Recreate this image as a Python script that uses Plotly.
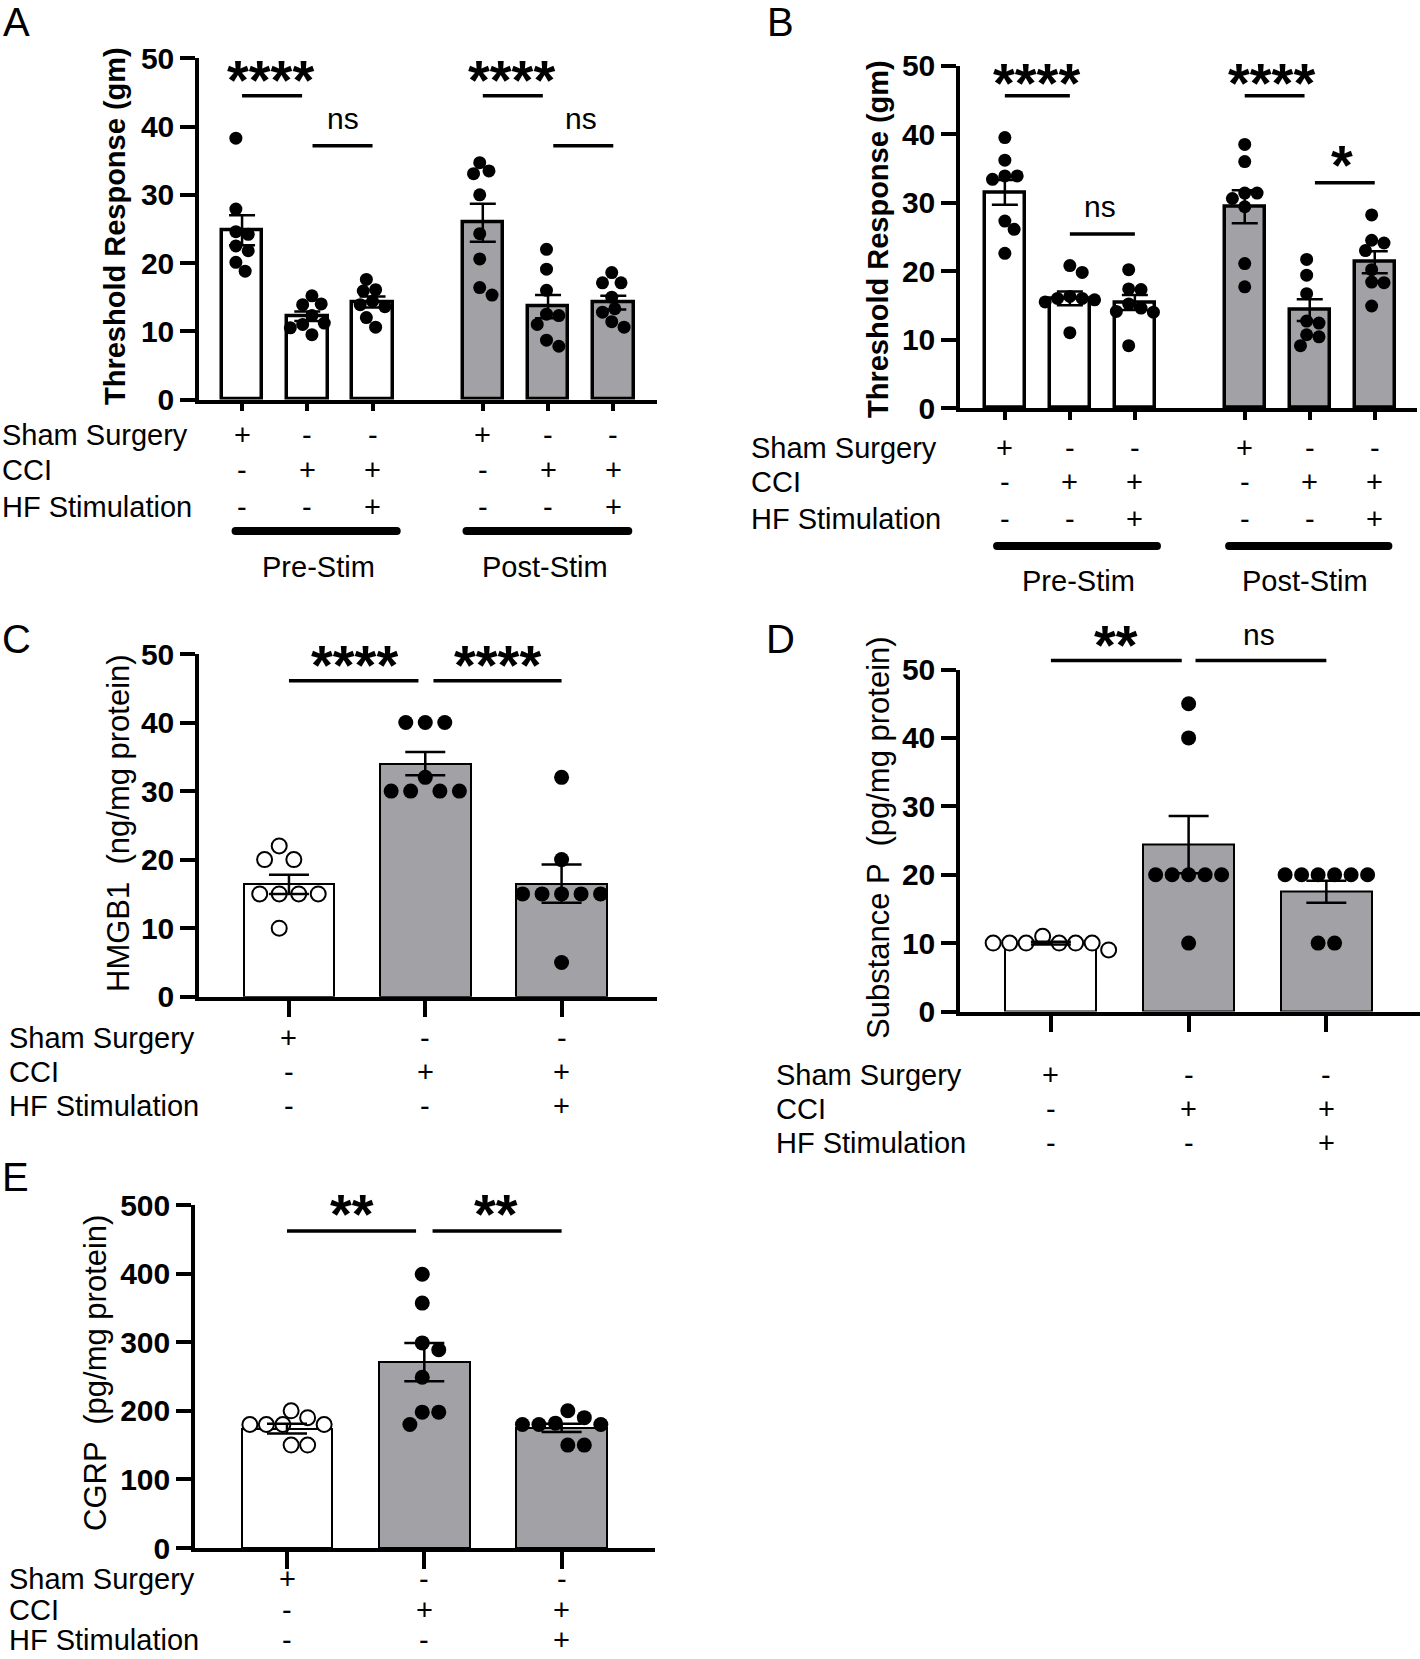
import plotly.graph_objects as go

W, H = 1420, 1659

# ---------------- data ----------------
row_labels = ["Sham Surgery", "CCI", "HF Stimulation"]
sham_signs = ["+", "-", "-"]
cci_signs = ["-", "+", "+"]
hf_signs = ["-", "-", "+"]
phase_labels = ["Pre-Stim", "Post-Stim"]

A_points = [
    [38.3, 27.9, 24.6, 24.2, 22.5, 21.8, 20.1, 18.8],
    [15.2, 14.0, 13.9, 12.3, 11.2, 11.0, 10.5, 9.5],
    [17.6, 16.1, 15.9, 14.4, 13.9, 13.6, 12.0, 10.6],
    [34.7, 33.5, 33.1, 30.0, 24.3, 20.6, 16.4, 15.3],
    [22.0, 19.1, 16.0, 12.5, 12.3, 11.0, 8.7, 7.8],
    [18.6, 17.1, 17.1, 15.0, 13.3, 12.8, 11.4, 10.6],
]
A_mean = [24.8, 12.2, 14.3, 25.9, 13.6, 14.2]
A_sem = [2.2, 0.7, 0.8, 2.8, 1.7, 1.0]
A_sig = ["****", "ns", "****", "ns"]

B_points = [
    [39.5, 36.2, 33.9, 33.9, 33.4, 27.3, 26.1, 22.6],
    [20.8, 19.8, 16.3, 16.0, 16.0, 15.8, 15.5, 11.0],
    [20.2, 17.4, 17.3, 15.2, 14.6, 14.1, 14.0, 9.1],
    [38.5, 36.0, 31.4, 31.4, 30.6, 29.4, 21.1, 17.7],
    [21.7, 19.4, 16.7, 12.7, 12.4, 10.7, 10.4, 9.1],
    [28.2, 24.5, 24.1, 23.0, 20.2, 18.4, 18.3, 14.9],
]
B_mean = [31.5, 16.0, 15.4, 29.4, 14.3, 21.3]
B_sem = [1.8, 1.0, 1.1, 2.4, 1.6, 1.6]
B_sig = ["****", "ns", "****", "*"]

C_points = [
    [22, 20, 20, 15, 15, 15, 15, 10],
    [40, 40, 40, 32, 30, 30, 30, 30],
    [32, 20, 15, 15, 15, 15, 15, 5],
]
C_mean = [16.4, 34.0, 16.5]
C_sem = [1.4, 1.7, 2.8]
C_sig = ["****", "****"]

D_points = [
    [10, 11, 10, 10, 9, 10, 10, 10],
    [45, 40, 20, 20, 20, 20, 20, 10],
    [20, 20, 20, 20, 20, 20, 10, 10],
]
D_mean = [10.0, 24.4, 17.5]
D_sem = [0.2, 4.2, 1.6]
D_sig = ["**", "ns"]

E_points = [
    [200, 190, 180, 180, 180, 180, 150, 150],
    [399, 357, 299, 289, 249, 198, 198, 180],
    [200, 190, 182, 180, 180, 180, 150, 150],
]
E_mean = [174, 271, 175]
E_sem = [7, 28, 6]
E_sig = ["**", "**"]

titles = {
    "A": "Threshold Response (gm)",
    "B": "Threshold Response (gm)",
    "C": "HMGB1  (ng/mg protein)",
    "D": "Substance P  (pg/mg protein)",
    "E": "CGRP  (pg/mg protein)",
}

# ---------------- styling / layout ----------------
FONT = "Liberation Sans, Arial, sans-serif"
GRAY = "#a2a2a6"
WHITE = "#ffffff"

panels = [
    dict(name="A", points=A_points, mean=A_mean, sem=A_sem, sig=A_sig,
         xpos=[0, 1, 2, 3.69, 4.69, 5.69], xr=[-0.66, 6.36], xpx=[199, 657], ypx=[58.3, 399.5],
         ymax=50, dtick=10, fills=[WHITE] * 3 + [GRAY] * 3, opens=[False] * 6,
         bw=0.62, blw=3.5, msize=13, sep=0.95, ebw=13, xticklen=8, title_bold=True, title_size=29,
         title_xy=(115, 226), letter_xy=(16, 22), label_x=0,
         rows_y=[435, 470, 507],
         sig_text=[(0.44, 48.3), (1.55, 41.2), (4.13, 48.3), (5.2, 41.2)],
         sig_lines=[(0, 0.92, 44.5), (1.08, 2.0, 37.2), (3.69, 4.61, 44.5), (4.77, 5.69, 37.2)],
         groups=[(-0.1, 2.37, 1.17), (3.44, 5.92, 4.64)], group_y=(531, 567)),
    dict(name="B", points=B_points, mean=B_mean, sem=B_sem, sig=B_sig,
         xpos=[0, 1, 2, 3.69, 4.69, 5.69], xr=[-0.69, 6.34], xpx=[960, 1417], ypx=[65.7, 408],
         ymax=50, dtick=10, fills=[WHITE] * 3 + [GRAY] * 3, opens=[False] * 6,
         bw=0.62, blw=3.5, msize=13, sep=0.95, ebw=13, xticklen=8, title_bold=True, title_size=29,
         title_xy=(878, 239), letter_xy=(780, 22), label_x=749,
         rows_y=[448, 482, 519],
         sig_text=[(0.48, 49.0), (1.47, 29.4), (4.1, 49.0), (5.18, 37.0)],
         sig_lines=[(0, 1.0, 45.6), (1.0, 2.0, 25.4), (3.69, 4.61, 45.6), (4.77, 5.69, 32.9)],
         groups=[(-0.12, 2.34, 1.14), (3.45, 5.9, 4.62)], group_y=(546, 581)),
    dict(name="C", points=C_points, mean=C_mean, sem=C_sem, sig=C_sig,
         xpos=[0, 1, 2], xr=[-0.66, 2.70], xpx=[199, 657], ypx=[654, 996.7],
         ymax=50, dtick=10, fills=[WHITE, GRAY, GRAY], opens=[True, False, False],
         bw=0.667, blw=2, msize=15, sep=1.3, ebw=20, xticklen=17, title_bold=False, title_size=31,
         title_xy=(118, 823), letter_xy=(16, 639), label_x=7,
         rows_y=[1038, 1072, 1106],
         sig_text=[(0.48, 50.0), (1.53, 50.0)],
         sig_lines=[(0, 0.95, 46.1), (1.06, 2.0, 46.1)],
         groups=[], group_y=None),
    dict(name="D", points=D_points, mean=D_mean, sem=D_sem, sig=D_sig,
         xpos=[0, 1, 2], xr=[-0.66, 2.68], xpx=[960, 1420], ypx=[669.5, 1011.5],
         ymax=50, dtick=10, fills=[WHITE, GRAY, GRAY], opens=[True, False, False],
         bw=0.66, blw=2, msize=15, sep=1.1, ebw=20, xticklen=17, title_bold=False, title_size=31,
         title_xy=(878, 837), letter_xy=(780, 639), label_x=774,
         rows_y=[1075, 1109, 1143],
         sig_text=[(0.47, 55.1), (1.51, 55.1)],
         sig_lines=[(0, 0.95, 51.3), (1.05, 2.0, 51.3)],
         groups=[], group_y=None),
    dict(name="E", points=E_points, mean=E_mean, sem=E_sem, sig=E_sig,
         xpos=[0, 1, 2], xr=[-0.67, 2.68], xpx=[195, 655], ypx=[1205, 1548],
         ymax=500, dtick=100, fills=[WHITE, GRAY, GRAY], opens=[True, False, False],
         bw=0.66, blw=2, msize=15, sep=1.1, ebw=20, xticklen=17, title_bold=False, title_size=31,
         title_xy=(95, 1373), letter_xy=(15, 1177), label_x=7,
         rows_y=[1579, 1610, 1640],
         sig_text=[(0.47, 502), (1.52, 502)],
         sig_lines=[(0, 0.94, 462), (1.06, 2.0, 462)],
         groups=[], group_y=None),
]


def swarm(vals, ux, uy, d, sep):
    """Beeswarm-style horizontal offsets so markers do not pile on top of each other."""
    idx = sorted(range(len(vals)), key=lambda i: vals[i], reverse=True)
    placed = []
    off = [0.0] * len(vals)
    dist = d * sep
    cands = [0.0]
    for k in range(1, 80):
        cands += [k * dist * 0.25, -k * dist * 0.25]
    for i in idx:
        y = vals[i] * uy
        for c in cands:
            if all((c - px) ** 2 + (y - py) ** 2 >= (dist * 0.97) ** 2 for px, py in placed):
                break
        placed.append((c, y))
        off[i] = c
    mid = (max(off) + min(off)) / 2
    return [(o - mid) / ux for o in off]


fig = go.Figure()
layout = dict(width=W, height=H,
              margin=dict(l=0, r=0, t=0, b=0, pad=0, autoexpand=False), autosize=False,
              template="none",
              paper_bgcolor="white", plot_bgcolor="white", showlegend=False,
              font=dict(family=FONT, color="black"))
annotations = []
shapes = []

for k, P in enumerate(panels):
    sfx = "" if k == 0 else str(k + 1)
    xref, yref = "x" + sfx, "y" + sfx
    x0p, x1p = P["xpx"]
    ytop, ybot = P["ypx"]
    dom_y = [1 - ybot / H, 1 - ytop / H]
    ux = (x1p - x0p) / (P["xr"][1] - P["xr"][0])
    uy = (ybot - ytop) / P["ymax"]

    def yv2p(v, dom_y=dom_y, P=P):
        return dom_y[0] + v / P["ymax"] * (dom_y[1] - dom_y[0])

    layout["xaxis" + sfx] = dict(domain=[x0p / W, x1p / W], range=P["xr"], anchor=yref,
                                 automargin=False,
                                 showline=True, linecolor="black", linewidth=3.5,
                                 ticks="outside", tickvals=P["xpos"], ticklen=P["xticklen"],
                                 tickwidth=3.5, tickcolor="black", showticklabels=False,
                                 showgrid=False, zeroline=False)
    layout["yaxis" + sfx] = dict(domain=dom_y, range=[0, P["ymax"]], anchor=xref,
                                 automargin=False,
                                 showline=True, linecolor="black", linewidth=3.5,
                                 ticks="outside", dtick=P["dtick"], tick0=0, ticklen=15,
                                 tickwidth=3.5, tickcolor="black",
                                 tickfont=dict(family=FONT, size=30, weight="bold", color="black"),
                                 showgrid=False, zeroline=False)

    # bars
    fig.add_trace(go.Bar(x=P["xpos"], y=P["mean"], width=P["bw"], xaxis=xref, yaxis=yref,
                         marker=dict(color=P["fills"], line=dict(color="black", width=P["blw"])),
                         hoverinfo="skip"))
    # points
    for i, vals in enumerate(P["points"]):
        offs = swarm(vals, ux, uy, P["msize"], P["sep"])
        xs = [P["xpos"][i] + o for o in offs]
        if P["opens"][i]:
            mk = dict(size=P["msize"], color="white", line=dict(color="black", width=2))
        else:
            mk = dict(size=P["msize"], color="black", line=dict(width=0))
        fig.add_trace(go.Scatter(x=xs, y=vals, mode="markers", marker=mk,
                                 xaxis=xref, yaxis=yref, cliponaxis=False, hoverinfo="skip"))
    # error bars (SEM)
    fig.add_trace(go.Scatter(x=P["xpos"], y=P["mean"], mode="markers",
                             marker=dict(size=1, opacity=0), xaxis=xref, yaxis=yref,
                             error_y=dict(type="data", array=P["sem"], visible=True,
                                          color="black", thickness=2.5, width=P["ebw"]),
                             hoverinfo="skip"))

    # significance
    for txt, (xc, yv) in zip(P["sig"], P["sig_text"]):
        is_star = txt.startswith("*")
        annotations.append(dict(
            x=xc, y=yv2p(yv), xref=xref, yref="paper", text=txt, showarrow=False,
            xanchor="center", yanchor="middle", yshift=-10 if is_star else 0,
            font=dict(family=FONT, size=56 if is_star else 30,
                      weight="bold" if is_star else "normal", color="black")))
    for (xa, xb, yv) in P["sig_lines"]:
        shapes.append(dict(type="line", xref=xref, yref="paper", x0=xa, x1=xb,
                           y0=yv2p(yv), y1=yv2p(yv), line=dict(color="black", width=3.5)))

    # axis title
    tx, ty = P["title_xy"]
    annotations.append(dict(x=tx / W, y=1 - ty / H, xref="paper", yref="paper",
                            text=titles[P["name"]], textangle=-90, showarrow=False,
                            xanchor="center", yanchor="middle",
                            font=dict(family=FONT, size=P["title_size"],
                                      weight="bold" if P["title_bold"] else "normal",
                                      color="black")))
    # panel letter
    lx, ly = P["letter_xy"]
    annotations.append(dict(x=lx / W, y=1 - ly / H, xref="paper", yref="paper",
                            text=P["name"], showarrow=False, xanchor="center", yanchor="middle",
                            font=dict(family=FONT, size=40, color="black")))

    # condition rows
    signs = [sham_signs, cci_signs, hf_signs]
    ngrp = len(P["xpos"]) // 3
    for r, (lab, sg) in enumerate(zip(row_labels, signs)):
        ry = 1 - P["rows_y"][r] / H
        annotations.append(dict(x=P["label_x"] / W, y=ry, xref="paper", yref="paper",
                                text=lab, showarrow=False, xanchor="left", yanchor="middle",
                                font=dict(family=FONT, size=29, color="black")))
        for g in range(ngrp):
            for j in range(3):
                annotations.append(dict(x=P["xpos"][g * 3 + j], y=ry, xref=xref, yref="paper",
                                        text=sg[j], showarrow=False, xanchor="center",
                                        yanchor="middle",
                                        font=dict(family=FONT, size=29, color="black")))
    # phase groups (thick bars with rounded ends)
    if P["groups"]:
        gy, ly2 = P["group_y"]
        for (xa, xb, xc), lab in zip(P["groups"], phase_labels):
            yp = 1 - gy / H
            shapes.append(dict(type="line", xref=xref, yref="paper", x0=xa, x1=xb,
                               y0=yp, y1=yp, line=dict(color="black", width=8)))
            for xe in (xa, xb):
                shapes.append(dict(type="circle", xref=xref, yref="paper",
                                   xsizemode="pixel", ysizemode="pixel",
                                   xanchor=xe, yanchor=yp, x0=-4, x1=4, y0=-4, y1=4,
                                   fillcolor="black", line=dict(width=0)))
            annotations.append(dict(x=xc, y=1 - ly2 / H, xref=xref, yref="paper", text=lab,
                                    showarrow=False, xanchor="center", yanchor="middle",
                                    font=dict(family=FONT, size=29, color="black")))

layout["annotations"] = annotations
layout["shapes"] = shapes
fig.update_layout(**layout)
fig.update_layout(bargap=0)

fig.write_html("out.html", config={"displayModeBar": False},
               post_script="document.body.style.margin='0';")
